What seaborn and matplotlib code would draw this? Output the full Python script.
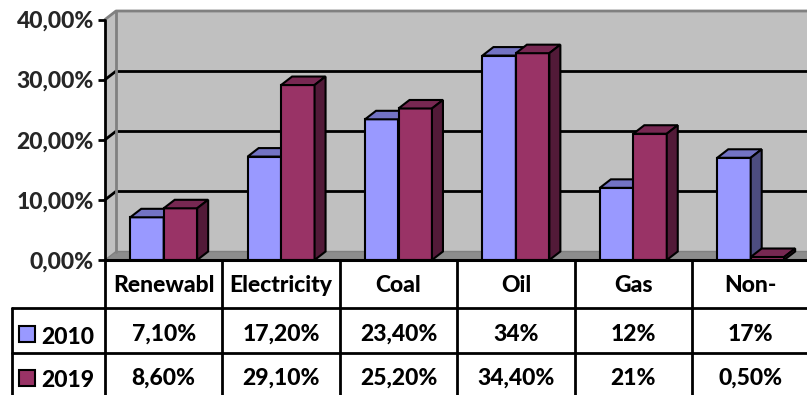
import matplotlib
matplotlib.use('Agg')
import matplotlib.pyplot as plt
import matplotlib.transforms as mtransforms
from matplotlib.patches import Polygon, Rectangle
from matplotlib.lines import Line2D
import pandas as pd
import seaborn as sns

# Data
categories = ['Renewabl', 'Electricity', 'Coal', 'Oil', 'Gas', 'Non-']
years = ['2010', '2019']
share_2010 = [0.071, 0.172, 0.234, 0.34, 0.12, 0.17]
share_2019 = [0.086, 0.291, 0.252, 0.344, 0.21, 0.005]
labels_2010 = ['7,10%', '17,20%', '23,40%', '34%', '12%', '17%']
labels_2019 = ['8,60%', '29,10%', '25,20%', '34,40%', '21%', '0,50%']
y_ticks = [0, 0.1, 0.2, 0.3, 0.4]
y_tick_labels = ['0,00%', '10,00%', '20,00%', '30,00%', '40,00%']

front_colors = {'2010': '#9999FF', '2019': '#993366'}
top_colors = {'2010': '#7373C4', '2019': '#772852'}
side_colors = {'2010': '#4D4D80', '2019': '#521A38'}

df = pd.DataFrame({
    'category': categories * 2,
    'year': [years[0]] * len(categories) + [years[1]] * len(categories),
    'share': share_2010 + share_2019,
})

sns.set_style('white')
plt.rcParams['font.family'] = ['Lato', 'DejaVu Sans']
FW = 'black'

W, H = 807, 395
fig = plt.figure(figsize=(W / 100, H / 100), dpi=100)
# plot area in pixels: x 105..809, y 19.5..260
ax = fig.add_axes([105 / W, (H - 260) / H, 704.4 / W, 240.5 / H])

sns.barplot(data=df, x='category', y='share', hue='year', order=categories,
            hue_order=years, palette=front_colors, width=0.57,
            edgecolor='black', linewidth=1.5, saturation=1, legend=False, ax=ax)

xmin, xmax = -0.5, len(categories) - 0.5
ymax = 0.4
ax.set_xlim(xmin, xmax)
ax.set_ylim(0, ymax)
for s in ax.spines.values():
    s.set_visible(False)
ax.set_xlabel('')
ax.set_ylabel('')
ax.set_xticks([])
ax.set_yticks(y_ticks)
ax.set_yticklabels(y_tick_labels, fontsize=16.5, fontweight=FW)
ax.tick_params(axis='y', left=True, length=5, width=2, color='black', pad=3)
ax.patch.set_visible(False)

# depth of the 3D effect in data units
dx = 11 / 117.4
dy = 8.5 * ymax / 240.5

wall = '#C0C0C0'
edge = '#808080'
kw = dict(clip_on=False)
# back wall and side wall
ax.add_patch(Polygon([(xmin + dx, dy), (xmax + dx, dy), (xmax + dx, ymax + dy), (xmin + dx, ymax + dy)],
                     closed=True, facecolor=wall, edgecolor='none', zorder=0.1, **kw))
ax.add_patch(Polygon([(xmin, 0), (xmin + dx, dy), (xmin + dx, ymax + dy), (xmin, ymax)],
                     closed=True, facecolor=wall, edgecolor='none', zorder=0.1, **kw))
# floor
ax.add_patch(Polygon([(xmin, 0), (xmax, 0), (xmax + dx, dy), (xmin + dx, dy)],
                     closed=True, facecolor='#8C8C8C', edgecolor=edge, linewidth=1, zorder=0.2, **kw))
# grid lines on walls
for t in y_ticks[1:-1]:
    ax.add_line(Line2D([xmin + dx, xmax + dx], [t + dy, t + dy], color='black', lw=2, zorder=0.3, **kw))
    ax.add_line(Line2D([xmin, xmin + dx], [t, t + dy], color='black', lw=2, zorder=0.3, **kw))
# wall edges
ax.add_line(Line2D([xmin + dx, xmin + dx], [dy, ymax + dy], color=edge, lw=2, zorder=0.4, **kw))
ax.add_line(Line2D([xmin, xmin + dx, xmax + dx], [ymax, ymax + dy, ymax + dy], color=edge, lw=2, zorder=0.4, **kw))
# axis lines
ax.add_line(Line2D([xmin, xmin], [0, ymax], color='black', lw=2, zorder=0.5, **kw))
ax.add_line(Line2D([xmin, xmax + dx], [0, 0], color='black', lw=2.2, zorder=50, **kw))

# 3D faces of the bars
bars = [b for b in ax.patches if isinstance(b, Rectangle) and b.get_width() < 0.5]
bars.sort(key=lambda b: b.get_x())
for i, b in enumerate(bars):
    x0, w, h = b.get_x(), b.get_width(), b.get_height()
    yr = years[i % 2]
    z = 2 + i
    b.set_zorder(z)
    b.set_facecolor(front_colors[yr])
    ax.add_patch(Polygon([(x0, h), (x0 + w, h), (x0 + w + dx, h + dy), (x0 + dx, h + dy)], closed=True,
                         facecolor=top_colors[yr], edgecolor='black', linewidth=1.5,
                         joinstyle='miter', zorder=z + 0.1))
    ax.add_patch(Polygon([(x0 + w, 0), (x0 + w + dx, dy), (x0 + w + dx, h + dy), (x0 + w, h)], closed=True,
                         facecolor=side_colors[yr], edgecolor='black', linewidth=1.5,
                         joinstyle='miter', zorder=z + 0.1))

# data table below the plot (y in pixels from the top of the figure)
pix = mtransforms.Affine2D().scale(1 / W, -1 / H).translate(0, 1) + fig.transFigure
colx = mtransforms.blended_transform_factory(ax.transData, pix)

tkw = dict(fontsize=16.5, fontweight=FW, color='black')
row_lines = [308, 353]
for y in row_lines:
    fig.add_artist(Line2D([12, 105], [y, y], color='black', lw=2, transform=pix))
    fig.add_artist(Line2D([xmin, xmax + 0.1], [y, y], color='black', lw=2, transform=colx))
fig.add_artist(Line2D([12, 12], [308, H], color='black', lw=2, transform=pix))
for k in range(len(categories) + 1):
    fig.add_artist(Line2D([xmin + k, xmin + k], [260, H], color='black', lw=2, transform=colx))

for i, c in enumerate(categories):
    fig.text(i, 292, c, ha='center', va='baseline', transform=colx, **tkw)
    fig.text(i, 341, labels_2010[i], ha='center', va='baseline', transform=colx, **tkw)
    fig.text(i, 385, labels_2019[i], ha='center', va='baseline', transform=colx, **tkw)

for yr, y_key, y_base in [(years[0], 326, 344), (years[1], 370, 387)]:
    fig.add_artist(Rectangle((18.5, y_key), 16, 16, facecolor=front_colors[yr], edgecolor='black',
                             linewidth=1.5, transform=pix))
    fig.text(41, y_base, yr, ha='left', va='baseline', transform=pix, **tkw)

fig.savefig('out.png', dpi=100)
